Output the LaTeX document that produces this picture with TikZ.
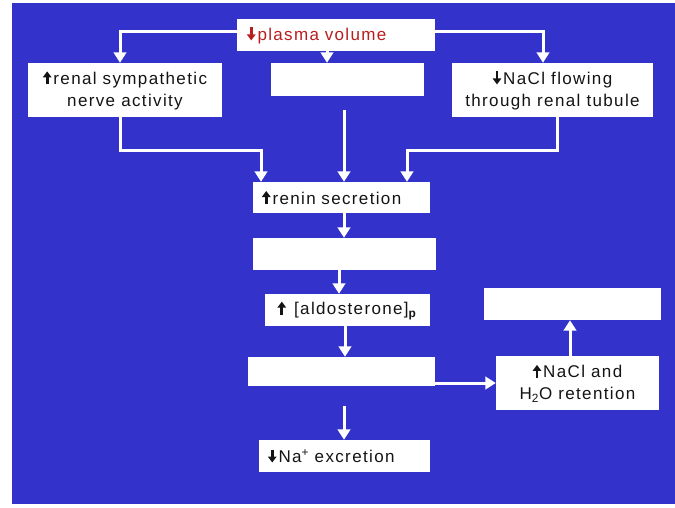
\documentclass[tikz,border=0pt]{standalone}
\usepackage{fontspec}
\setmainfont{Liberation Sans}[LetterSpace=8]
\usetikzlibrary{arrows.meta}
\definecolor{bg}{RGB}{51,51,204}
\definecolor{pvred}{RGB}{185,30,30}
\definecolor{txt}{RGB}{20,20,20}
\newcommand{\UpA}[1][txt]{\tikz[baseline=0pt]\draw[#1,line width=2.8pt,-{Triangle[width=8.5pt,length=6pt]}] (0pt,0pt) -- (0pt,13pt);\hspace{2pt}}
\newcommand{\DnA}[1][txt]{\tikz[baseline=0pt]\draw[#1,line width=2.8pt,-{Triangle[width=8.5pt,length=6pt]}] (0pt,13pt) -- (0pt,0pt);\hspace{2pt}}
\begin{document}
\begin{tikzpicture}[x=1pt,y=-1pt,
  box/.style={fill=white, inner sep=0pt, font=\fontsize{17}{22}\selectfont, text=txt, align=center},
  arr/.style={draw=white, line width=3pt, line join=miter, -{Triangle[width=12.5pt,length=10.5pt]}}]
\useasboundingbox (0,0) rectangle (675,507);
\fill[white] (0,0) rectangle (675,507);
\fill[bg] (12,3) rectangle (675,504);
% nodes
\node[box, minimum width=198pt, minimum height=32pt, text width=178pt, align=left, text=pvred] (pv) at (336,35) {\DnA[pvred]plasma volume};
\node[box, minimum width=194pt, minimum height=54pt] (rs) at (125,90) {\UpA renal sympathetic\\nerve activity};
\node[box, minimum width=153pt, minimum height=33pt] (mb) at (347.5,79.5) {};
\node[box, minimum width=201pt, minimum height=54pt] (nf) at (552.5,90) {\DnA NaCl flowing\\through renal tubule};
\node[box, minimum width=177pt, minimum height=31pt, text width=159pt, align=left] (rn) at (341.5,197.5) {\UpA renin secretion};
\node[box, minimum width=183pt, minimum height=32pt] (e1) at (344.5,254) {};
\node[box, minimum width=165pt, minimum height=32pt] (al) at (347.5,310) {\UpA{} {[}aldosterone{]}\textsubscript{\textbf{p}}};
\node[box, minimum width=187pt, minimum height=29pt] (e2) at (341.5,371.5) {};
\node[box, minimum width=163pt, minimum height=54pt] (nh) at (577.5,383) {\UpA NaCl and\\H\textsubscript{2}O retention};
\node[box, minimum width=177pt, minimum height=32pt] (e3) at (572.5,304) {};
\node[box, minimum width=171pt, minimum height=32pt, text width=153pt, align=left] (na) at (344.5,456) {\DnA Na\textsuperscript{+} excretion};
\coordinate (m1) at (344,110);
\coordinate (m2) at (344,406);
\coordinate (c1) at (261,150);
\coordinate (c2) at (407,150);
% connectors
\draw[arr] ([yshift=4pt]pv.west) -| ([xshift=-5pt]rs.north);
\draw[arr] ([yshift=4pt]pv.east) -| ([xshift=-9.5pt]nf.north);
\draw[arr] ([xshift=-9pt]pv.south) -- ([xshift=-9pt]pv.south |- mb.north);
\draw[arr] (m1) -- (m1 |- rn.north);
\draw[arr] ([xshift=-5pt]rs.south) |- (c1) -- (c1 |- rn.north);
\draw[arr] ([xshift=4.5pt]nf.south) |- (c2) -- (c2 |- rn.north);
\draw[arr] (344,0 |- rn.south) -- (344,0 |- e1.north);
\draw[arr] (339,0 |- e1.south) -- (339,0 |- al.north);
\draw[arr] (345,0 |- al.south) -- (345,0 |- e2.north);
\draw[arr] (e2.east |- nh.west) -- (nh.west);
\draw[arr] (570,0 |- nh.north) -- (570,0 |- e3.south);
\draw[arr] (m2) -- (m2 |- na.north);
\end{tikzpicture}
\end{document}
